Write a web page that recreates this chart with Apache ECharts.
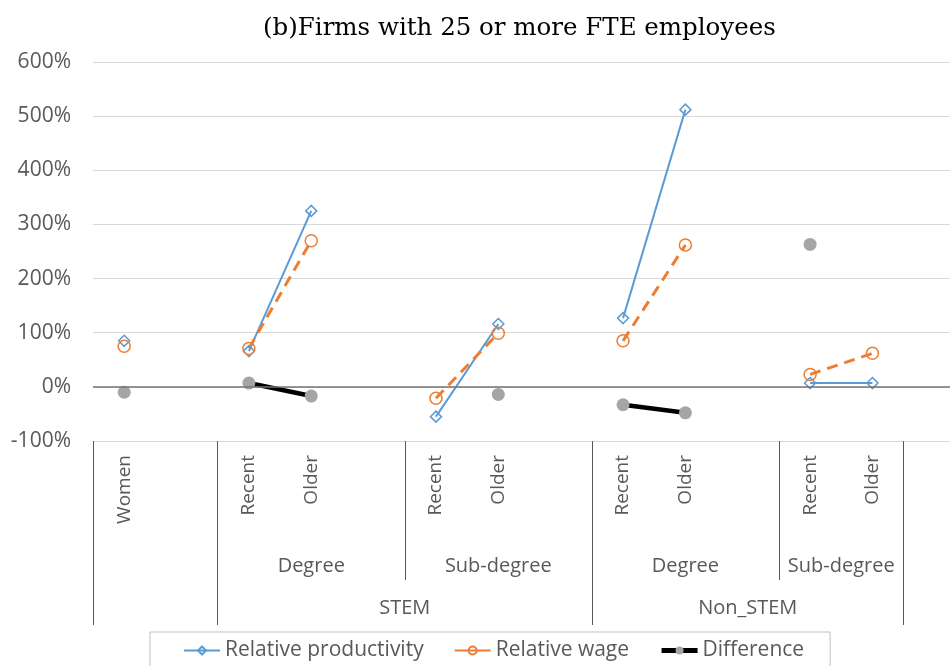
<!DOCTYPE html>
<html>
<head>
<meta charset="utf-8">
<script src="https://cdn.jsdelivr.net/npm/echarts@6/dist/echarts.min.js"></script>
<style>
  html, body { margin: 0; padding: 0; background: #fff; }
  #chart { width: 950px; height: 666px; }
</style>
</head>
<body>
<div id="chart"></div>
<script>
// level 1 labels, one per category slot ('' = spacer slot)
var categories = ['Women', '', 'Recent', 'Older', '', 'Recent', 'Older', '', 'Recent', 'Older', '', 'Recent', 'Older', ''];
// level 2 and level 3 groups: [label, number of slots]
var subGroups = [['', 2], ['Degree', 3], ['Sub-degree', 3], ['Degree', 3], ['Sub-degree', 2], ['', 1]];
var topGroups = [['', 2], ['STEM', 6], ['Non_STEM', 5], ['', 1]];

var yTicks = [-100, 0, 100, 200, 300, 400, 500, 600];

var productivity = [85, null, 66, 325, null, -55, 116, null, 127, 512, null, 7, 7, null];
var wage = [75, null, 71, 270, null, -21, 99, null, 85, 262, null, 23, 62, null];
var difference = [-10, null, 7, -17, null, null, -14, null, -33, -48, null, 263, null, null];

function groupMarks(groups) {
    var pos = 0, centers = {}, edges = [0];
    groups.forEach(function (g) {
        if (g[0]) centers[pos + g[1] / 2] = g[0];
        pos += g[1];
        edges.push(pos);
    });
    return { centers: centers, edges: edges };
}
var topMarks = groupMarks(topGroups);
var subMarks = groupMarks(subGroups);
var innerEdges = subMarks.edges.filter(function (e) { return topMarks.edges.indexOf(e) < 0; });

var textColor = '#595959';
var font = 'Open Sans';

function groupAxis(marks, edges, tickLen, margin) {
    return {
        type: 'value',
        position: 'bottom',
        min: 0,
        max: categories.length,
        axisLine: { show: false, onZero: false },
        splitLine: { show: false },
        axisTick: {
            show: true,
            customValues: edges,
            length: tickLen,
            lineStyle: { color: textColor, width: 1 }
        },
        axisLabel: {
            customValues: Object.keys(marks.centers).map(Number),
            formatter: function (v) { return marks.centers[v] || ''; },
            margin: margin,
            color: textColor,
            fontFamily: font,
            fontSize: 20
        }
    };
}

var option = {
    animation: false,
    backgroundColor: '#fff',
    title: {
        text: '(b)Firms with 25 or more FTE employees',
        left: 258,
        top: 11,
        textStyle: {
            fontFamily: 'DejaVu Serif',
            fontWeight: 'normal',
            fontSize: 24.5,
            color: '#000'
        }
    },
    grid: {
        left: 93,
        right: -16,
        top: 62,
        bottom: 225,
        outerBoundsMode: 'none'
    },
    legend: {
        left: 150,
        top: 632,
        padding: [8, 26, 12, 33],
        borderColor: '#bfbfbf',
        borderWidth: 1,
        itemGap: 30,
        itemWidth: 36,
        itemHeight: 10,
        textStyle: { color: textColor, fontFamily: font, fontSize: 21 },
        data: [
            { name: 'Relative productivity' },
            { name: 'Relative wage', lineStyle: { type: 'solid' } },
            { name: 'Difference', lineStyle: { width: 5 } }
        ]
    },
    xAxis: [
        {
            type: 'category',
            position: 'bottom',
            data: categories,
            boundaryGap: true,
            axisLine: { show: false, onZero: false },
            axisTick: { show: false },
            axisLabel: {
                interval: 0,
                rotate: 90,
                margin: 14,
                color: textColor,
                fontFamily: font,
                fontSize: 19
            }
        },
        groupAxis(subMarks, innerEdges, 139, 115),
        groupAxis(topMarks, topMarks.edges, 184, 157)
    ],
    yAxis: {
        type: 'value',
        min: yTicks[0],
        max: yTicks[yTicks.length - 1],
        interval: 100,
        axisLine: { show: false },
        axisTick: { show: false },
        splitLine: { lineStyle: { color: '#d9d9d9', width: 1 } },
        axisLabel: {
            formatter: '{value}%',
            margin: 22,
            color: textColor,
            fontFamily: font,
            fontSize: 21
        }
    },
    series: [
        {
            name: 'Relative productivity',
            type: 'line',
            data: productivity,
            symbol: 'diamond',
            symbolSize: 11,
            lineStyle: { color: '#5b9bd5', width: 2 },
            itemStyle: { color: 'rgba(255,255,255,0)', borderColor: '#5b9bd5', borderWidth: 1.5 },
            markLine: {
                silent: true,
                symbol: ['none', 'none'],
                label: { show: false },
                lineStyle: { color: '#737373', type: 'solid', width: 1.5 },
                data: [{ yAxis: 0 }]
            }
        },
        {
            name: 'Relative wage',
            type: 'line',
            data: wage,
            symbol: 'circle',
            symbolSize: 12,
            lineStyle: { color: '#ed7d31', width: 3, type: [11, 7] },
            itemStyle: { color: 'rgba(255,255,255,0)', borderColor: '#ed7d31', borderWidth: 1.5 }
        },
        {
            name: 'Difference',
            type: 'line',
            data: difference,
            symbol: 'circle',
            symbolSize: 13,
            lineStyle: { color: '#000', width: 4.5 },
            itemStyle: { color: '#a5a5a5' }
        }
    ]
};

var chart = echarts.init(document.getElementById('chart'));
chart.setOption(option);
</script>
</body>
</html>
